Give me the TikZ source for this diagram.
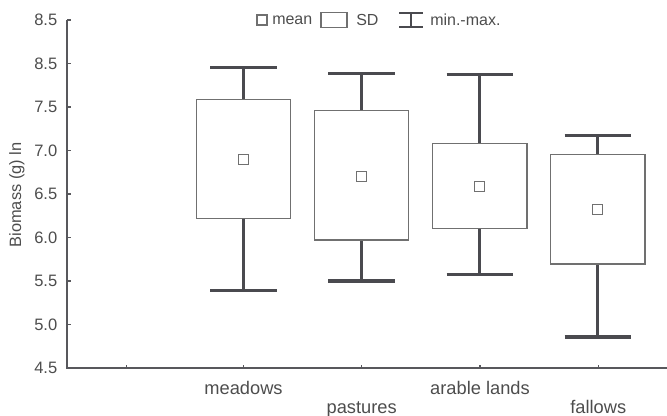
\documentclass[tikz,border=0pt]{standalone}
\usepackage{fontspec}
\setmainfont{Liberation Sans}
\definecolor{txt}{HTML}{4D4D4D}
\definecolor{axis}{HTML}{58585C}
\definecolor{whisk}{HTML}{4A4A4F}
\definecolor{boxc}{HTML}{707070}
\tikzset{
  axisline/.style={draw=axis,line width=1.1pt},
  tickline/.style={draw=axis,line width=0.8pt},
  whisker/.style={draw=whisk,line width=2.3pt},
  sdbox/.style={draw=boxc,line width=0.9pt,fill=white},
  meanmark/.style={draw=boxc,line width=0.9pt,fill=white},
  ticklab/.style={text=txt,font=\fontsize{12.4pt}{14pt}\selectfont,anchor=east,inner sep=0pt},
  catlab/.style={text=txt,font=\fontsize{13.7pt}{16pt}\selectfont,anchor=base,inner sep=0pt},
  leglab/.style={text=txt,font=\fontsize{12pt}{14pt}\selectfont,anchor=west,inner sep=0pt},
}
\newcommand{\bxplot}[7]{%
  % #1 name, #2 cx, #3 cap top, #4 box top, #5 mean, #6 box bottom, #7 cap bottom
  \draw[whisker] (#2,#3) -- (#2,#7);
  \draw[whisker] (#2-33.3,#3) -- (#2+33.3,#3);
  \draw[whisker] (#2-33.3,#7) -- (#2+33.3,#7);
  \draw[sdbox] (#2-47.2,#4) rectangle (#2+47.2,#6);
  \draw[meanmark] (#2-5,#5-5) rectangle (#2+5,#5+5);
  \coordinate (#1) at (#2,#5);
}
\begin{document}
\begin{tikzpicture}[x=0.75pt,y=-0.75pt]
\useasboundingbox (0,0) rectangle (667,416);
% axes
\coordinate (o) at (67,368);
\coordinate (ytop) at (67,20);
\coordinate (xend) at (667,368);
\draw[axisline] (ytop) -- (o) -- (xend);
% y ticks and labels
\foreach \yy/\lab in {20/8.5,63.5/8.5,107/7.5,150.5/7.0,194/6.5,237.5/6.0,281/5.5,324.5/5.0,368/4.5}{
  \draw[tickline] (67,\yy) -- (70.5,\yy);
  \node[ticklab] (yl\yy) at (57.5,\yy) {\lab};
}
% x ticks
\foreach \xx in {126.7,243.5,361.7,480,598.3}{
  \draw[tickline] (\xx,368) -- (\xx,364.5);
}
% y axis label
\node[text=txt,font=\fontsize{12.3pt}{14pt}\selectfont,rotate=90,inner sep=0pt] (ylabel) at (17,195) {Biomass (g) ln};
% boxes
\bxplot{meadows}{243.5}{67.7}{99.3}{159.7}{218.3}{290.7}
\bxplot{pastures}{361.5}{73.3}{110.7}{176.3}{240}{281}
\bxplot{arable}{479.8}{74.7}{143.3}{186.7}{228.7}{274.3}
\bxplot{fallows}{597.8}{135.3}{154.7}{209.7}{264}{337}
% category labels
\node[catlab] (lmeadows) at (243.5,394) {meadows};
\node[catlab] (lpastures) at (361.7,413) {pastures};
\node[catlab] (larable) at (480,394) {arable lands};
\node[catlab] (lfallows) at (598.3,413) {fallows};
% legend
\draw[meanmark] (257,15) rectangle (267,25);
\node[leglab] (lmean) at (272,20) {mean};
\draw[sdbox] (321,12.5) rectangle (347,27.5);
\node[leglab] (lsd) at (356,20) {SD};
\draw[whisker,line width=2pt] (399,13) -- (423,13);
\draw[whisker,line width=2pt] (411,13) -- (411,27);
\draw[whisker,line width=2pt] (399,27) -- (423,27);
\node[leglab] (lminmax) at (430,20) {min.-max.};
\end{tikzpicture}
\end{document}
